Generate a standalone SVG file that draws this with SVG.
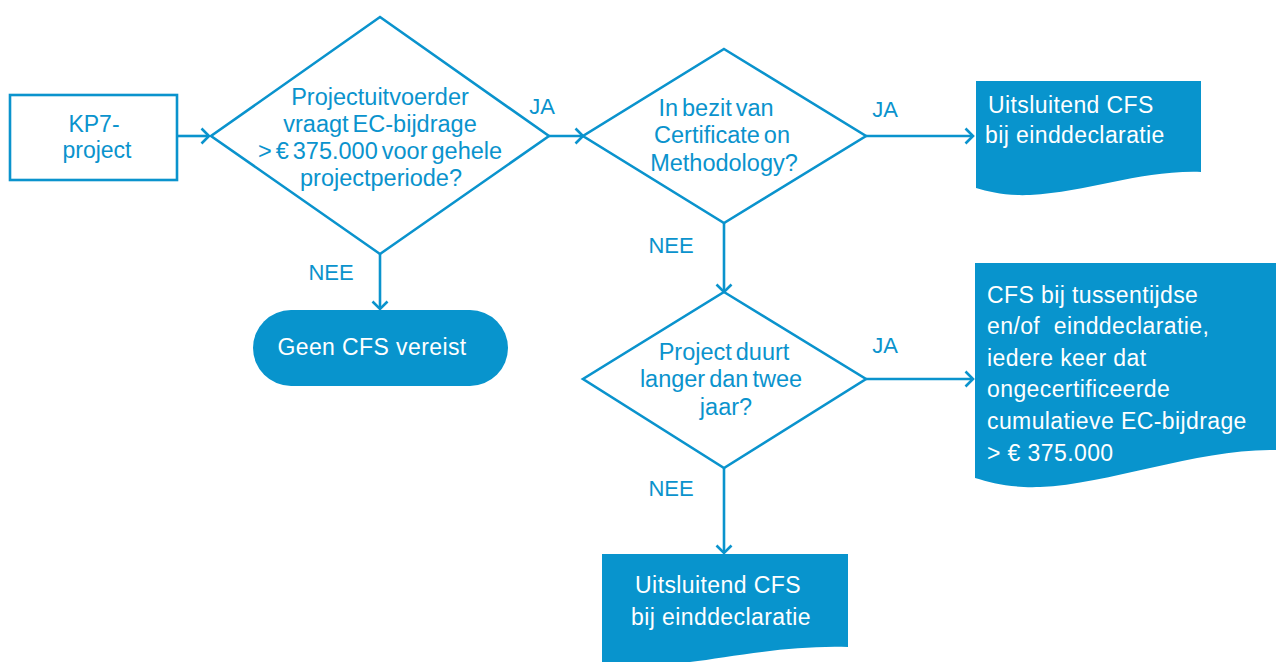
<svg xmlns="http://www.w3.org/2000/svg" width="1276" height="662" viewBox="0 0 1276 662">
<style>
.ln{fill:none;stroke:#0a93cd;stroke-width:2.6;stroke-linejoin:miter}
.fl{fill:#0894cd;stroke:none}
.t{font-family:"Liberation Sans",Arial,sans-serif;font-size:23px;fill:#0a93cd;text-anchor:middle}
.dt{font-family:"Liberation Sans",Arial,sans-serif;font-size:23.5px;fill:#0a93cd;text-anchor:middle;word-spacing:-2.5px}
.w{font-family:"Liberation Sans",Arial,sans-serif;font-size:23px;fill:#ffffff;letter-spacing:0.4px}
.lb{font-family:"Liberation Sans",Arial,sans-serif;font-size:22px;fill:#0a93cd;text-anchor:middle}
</style>
<defs>
<marker id="ah" markerUnits="userSpaceOnUse" markerWidth="14" markerHeight="20" refX="9" refY="9" orient="auto">
<path d="M1.5,1.5 L9,9 L1.5,16.5" fill="none" stroke="#0a93cd" stroke-width="2.6"/>
</marker>
</defs>
<g id="connectors">
<path class="ln" d="M177,136 H209" marker-end="url(#ah)"/>
<path class="ln" d="M549,136 H583" marker-end="url(#ah)"/>
<path class="ln" d="M866,136 H973" marker-end="url(#ah)"/>
<path class="ln" d="M724,223 V292" marker-end="url(#ah)"/>
<path class="ln" d="M866,379 H973" marker-end="url(#ah)"/>
<path class="ln" d="M724,468 V553" marker-end="url(#ah)"/>
<path class="ln" d="M380,254 V309" marker-end="url(#ah)"/>
<text class="lb" x="542" y="114">JA</text>
<text class="lb" x="885" y="117">JA</text>
<text class="lb" x="885" y="353">JA</text>
<text class="lb" x="331" y="280">NEE</text>
<text class="lb" x="671" y="253">NEE</text>
<text class="lb" x="671" y="496">NEE</text>
</g>
<g id="start">
<rect class="ln" x="10" y="95" width="167" height="85"/>
<text class="t" x="94" y="132">KP7-</text>
<text class="t" x="97" y="158">project</text>
</g>
<g id="decision1">
<polygon class="ln" points="380,17 549,136 380,254 211,136"/>
<text class="dt" x="380" y="105">Projectuitvoerder</text>
<text class="dt" x="380" y="132">vraagt EC-bijdrage</text>
<text class="dt" x="380" y="159">&gt; € 375.000 voor gehele</text>
<text class="dt" x="381" y="186">projectperiode?</text>
</g>
<g id="noCFS">
<rect class="fl" x="253" y="310" width="255" height="76" rx="38" ry="38"/>
<text class="w" x="372" y="355" text-anchor="middle">Geen CFS vereist</text>
</g>
<g id="decision2">
<polygon class="ln" points="724,49 866,136 724,223 583,136"/>
<text class="dt" x="716" y="116">In bezit van</text>
<text class="dt" x="722" y="143">Certificate on</text>
<text class="dt" x="724" y="171">Methodology?</text>
</g>
<g id="doc1">
<path class="fl" d="M976,81 H1201 V172 C1140,170 1090,192 1030,195 C1005,196 990,192 976,188 Z"/>
<text class="w" x="988" y="113">Uitsluitend CFS</text>
<text class="w" x="985" y="143">bij einddeclaratie</text>
</g>
<g id="decision3">
<polygon class="ln" points="724,292 866,379 724,468 583,379"/>
<text class="dt" x="724" y="360">Project duurt</text>
<text class="dt" x="721" y="387">langer dan twee</text>
<text class="dt" x="726" y="415">jaar?</text>
</g>
<g id="doc2">
<path class="fl" d="M975,263 H1276 V450 C1200,448 1110,484 1040,487 C1010,488 992,483 975,478 Z"/>
<text class="w" x="987" y="303">CFS bij tussentijdse</text>
<text class="w" x="987" y="334" xml:space="preserve">en/of  einddeclaratie,</text>
<text class="w" x="987" y="366">iedere keer dat</text>
<text class="w" x="987" y="397">ongecertificeerde</text>
<text class="w" x="987" y="429">cumulatieve EC-bijdrage</text>
<text class="w" x="987" y="461">&gt; € 375.000</text>
</g>
<g id="doc3">
<path class="fl" d="M602,554 H848 V647 C790,645 730,657 690,662 L602,662 Z"/>
<text class="w" x="718" y="593" text-anchor="middle">Uitsluitend CFS</text>
<text class="w" x="721" y="625" text-anchor="middle">bij einddeclaratie</text>
</g>
</svg>
